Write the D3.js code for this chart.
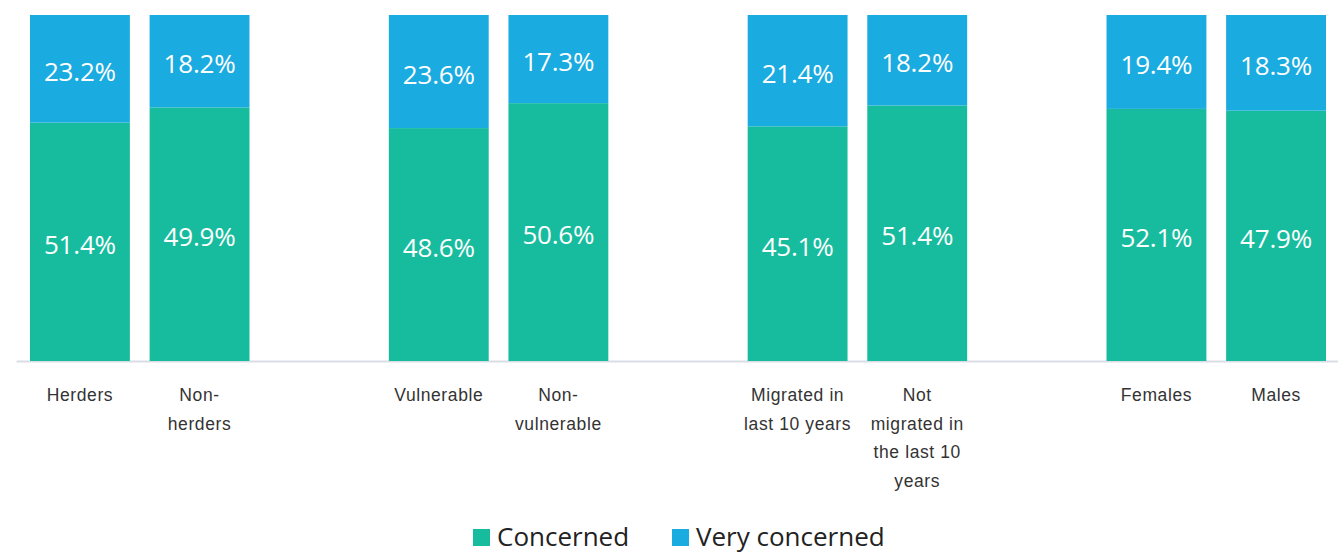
<!DOCTYPE html>
<html>
<head>
<meta charset="utf-8">
<script src="https://cdn.jsdelivr.net/npm/d3@7"></script>
<style>
  body { margin: 0; background: #fff; }
  svg { display: block; font-family: "Open Sans", "Noto Sans", sans-serif; }
  .axis text { fill: #333; font-size: 17.5px; letter-spacing: 0.6px; }
  .axis .domain { stroke: #d9dde6; stroke-width: 2; }
  .val { fill: #fff; font-size: 26px; letter-spacing: -0.2px; }
  .legend text { fill: #222; font-size: 26px; }
</style>
</head>
<body>
<div id="chart-container"></div>
<script>
var categories = ["Herders", "Non-herders", "Vulnerable", "Non-vulnerable",
  "Migrated in last 10 years", "Not migrated in the last 10 years", "Females", "Males"]
var tickLabels = [["Herders"], ["Non-", "herders"], ["Vulnerable"], ["Non-", "vulnerable"],
  ["Migrated in", "last 10 years"], ["Not", "migrated in", "the last 10", "years"], ["Females"], ["Males"]]
var groups = [0, 0, 1, 1, 2, 2, 3, 3]
var concerned = [51.4, 49.9, 48.6, 50.6, 45.1, 51.4, 52.1, 47.9]
var veryConcerned = [23.2, 18.2, 23.6, 17.3, 21.4, 18.2, 19.4, 18.3]
var seriesNames = ["Concerned", "Very concerned"]
var colors = ["#17bc9e", "#1aabe0"]

var width = 1338, height = 553

var data = categories.map(function(c, i) {
  return {cat: c, "Concerned": concerned[i], "Very concerned": veryConcerned[i]}
})

// band slots, with an empty slot between groups
var slots = []
categories.forEach(function(c, i) {
  if (i > 0 && groups[i] !== groups[i - 1]) slots.push("gap" + i)
  slots.push(c)
})

var xScale = d3.scaleBand()
  .domain(slots)
  .range([16, 1340])
  .paddingInner(0.165)
  .paddingOuter(0.117)

var yScale = d3.scaleLinear()
  .domain([0, 1])
  .range([361, 15])

var stack = d3.stack()
  .keys(seriesNames)
  .offset(d3.stackOffsetExpand)

var stacked = stack(data)

var svg = d3.select('#chart-container')
  .append('svg')
  .attr('width', width)
  .attr('height', height)

/* x axis */
var axis = svg.append('g')
  .attr('class', 'axis')
  .attr('transform', 'translate(0, 361)')
  .call(d3.axisBottom(xScale).tickValues(categories).tickSize(0).tickSizeOuter(0).tickFormat(''))

axis.selectAll('.tick text').remove()
axis.selectAll('.tick').each(function(d) {
  var lines = tickLabels[categories.indexOf(d)]
  var t = d3.select(this).append('text')
    .attr('text-anchor', 'middle')
  lines.forEach(function(l, j) {
    t.append('tspan')
      .attr('x', 0)
      .attr('y', 40 + j * 28.7)
      .text(l)
  })
})

/* bars */
var layers = svg.selectAll('g.layer')
  .data(stacked)
  .enter().append('g')
  .attr('class', 'layer')
  .attr('fill', function(d, i) { return colors[i] })

layers.selectAll('rect')
  .data(function(d) { return d })
  .enter().append('rect')
  .attr('x', function(d) { return xScale(d.data.cat) })
  .attr('width', xScale.bandwidth())
  .attr('y', function(d) { return yScale(d[1]) })
  .attr('height', function(d) { return yScale(d[0]) - yScale(d[1]) })

layers.each(function(s) {
  d3.select(this).selectAll('text')
    .data(s)
    .enter().append('text')
    .attr('class', 'val')
    .attr('text-anchor', 'middle')
    .attr('x', function(d) { return xScale(d.data.cat) + xScale.bandwidth() / 2 })
    .attr('y', function(d) { return (yScale(d[0]) + yScale(d[1])) / 2 + 12 })
    .text(function(d) { return d.data[s.key].toFixed(1) + '%' })
})

/* legend */
var legend = svg.append('g').attr('class', 'legend')
var lx = [473, 672]
seriesNames.forEach(function(n, i) {
  legend.append('rect')
    .attr('x', lx[i]).attr('y', 529)
    .attr('width', 17).attr('height', 17)
    .attr('fill', colors[i])
  legend.append('text')
    .attr('x', lx[i] + 24).attr('y', 546)
    .text(n)
})
</script>
</body>
</html>
